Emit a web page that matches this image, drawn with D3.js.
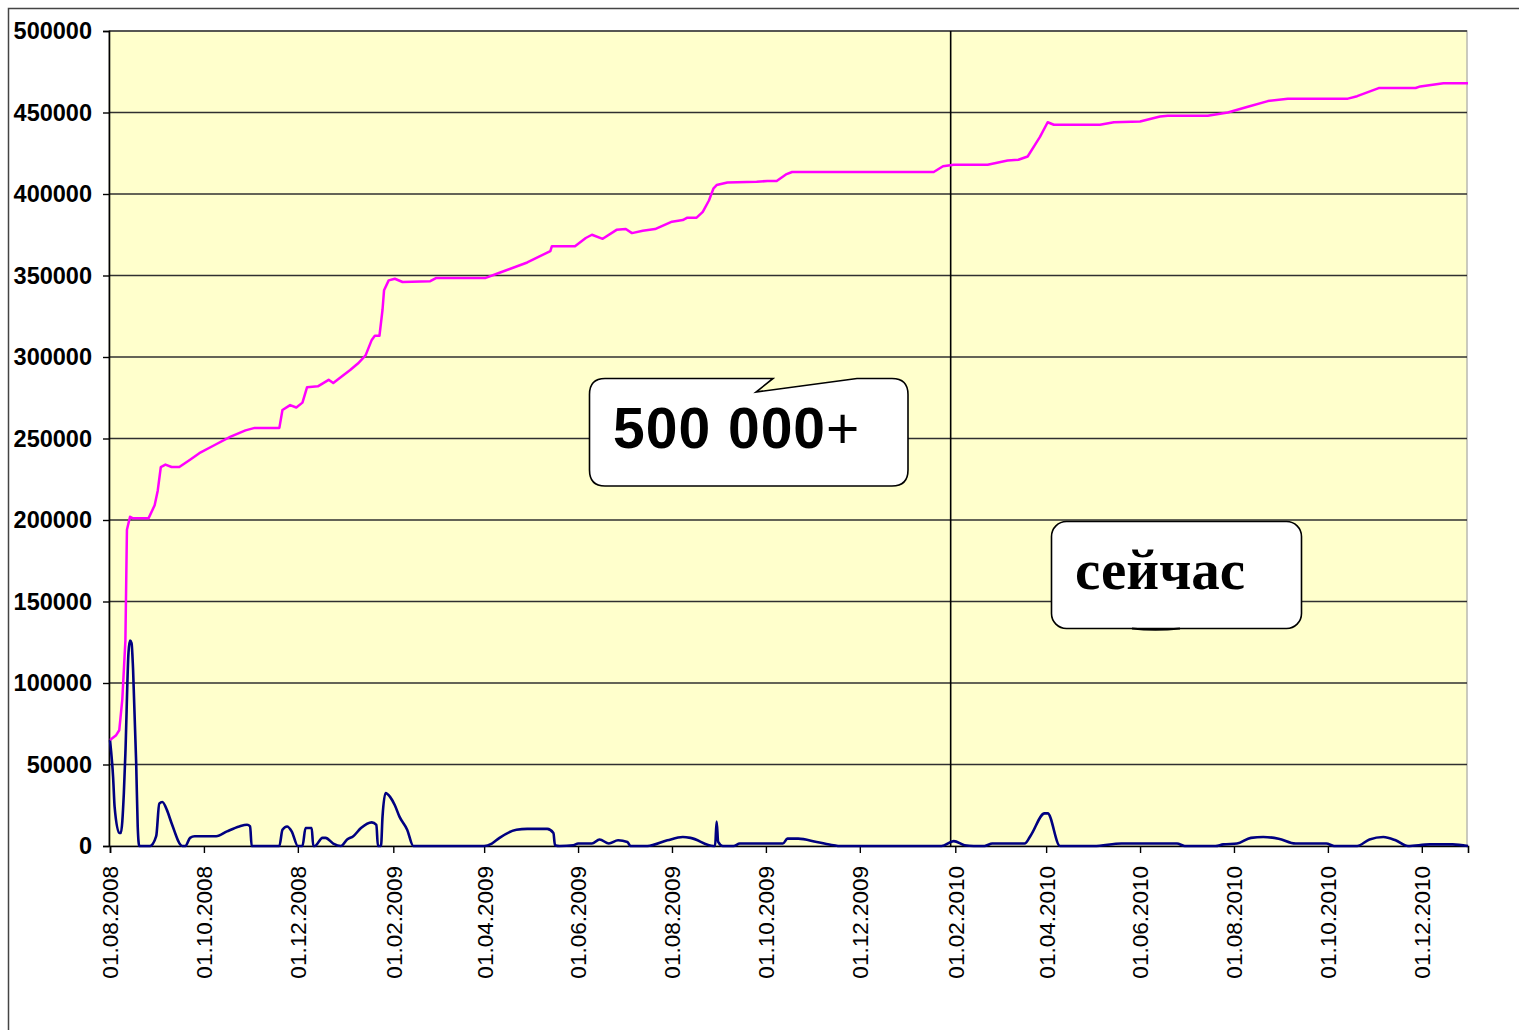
<!DOCTYPE html>
<html>
<head>
<meta charset="utf-8">
<script src="https://d3js.org/d3.v7.min.js"></script>
<style>
	body { margin: 0; background: white; }
	svg { display: block; }
</style>
</head>
<body>
<svg id="chart" width="1519" height="1030"></svg>
<script>
// total (pink) series
let totalDates = ["2008-08-01","2008-08-05","2008-08-07","2008-08-09","2008-08-11","2008-08-12","2008-08-14","2008-08-16","2008-08-26","2008-08-30",
	"2008-09-01","2008-09-03","2008-09-06","2008-09-10","2008-09-15","2008-09-22","2008-09-28","2008-10-08","2008-10-18","2008-10-28",
	"2008-11-03","2008-11-19","2008-11-21","2008-11-26","2008-11-30","2008-12-04","2008-12-07","2008-12-14","2008-12-21","2008-12-24",
	"2008-12-28","2009-01-04","2009-01-09","2009-01-14","2009-01-18","2009-01-20","2009-01-23","2009-01-25","2009-01-26","2009-01-29",
	"2009-02-02","2009-02-07","2009-02-25","2009-03-01","2009-04-02","2009-04-11","2009-04-29","2009-05-14","2009-05-15","2009-05-30",
	"2009-06-06","2009-06-10","2009-06-17","2009-06-26","2009-07-02","2009-07-06","2009-07-13","2009-07-21","2009-08-01","2009-08-08",
	"2009-08-11","2009-08-17","2009-08-21","2009-08-25","2009-08-28","2009-08-30","2009-09-06","2009-09-25","2009-10-02","2009-10-08",
	"2009-10-14","2009-10-18","2010-01-18","2010-01-24","2010-01-31","2010-02-22","2010-03-07","2010-03-14","2010-03-20","2010-03-28",
	"2010-04-02","2010-04-06","2010-05-06","2010-05-15","2010-06-01","2010-06-14","2010-06-19","2010-07-15","2010-07-28","2010-08-10",
	"2010-08-23","2010-09-05","2010-10-14","2010-10-20","2010-11-03","2010-11-27","2010-11-30","2010-12-15","2010-12-31"];
let totalValues = [65000,68000,71000,90000,126000,194000,202000,201000,201000,209000,
	218000,232500,234000,232500,232500,237000,241000,246000,251000,255000,
	256500,256500,267500,270500,269000,272000,281500,282000,286000,284000,
	287000,292000,296000,301000,310500,313000,313000,329000,341000,347000,
	348000,346000,346500,348500,348500,351700,358000,365000,368000,368000,
	373000,375000,372500,378000,378500,376000,377500,378500,383000,384000,
	385500,385500,389000,396000,403500,405500,407000,407500,408000,408000,
	412000,413500,413500,417000,418000,418000,420500,421000,423000,435000,
	444000,442500,442500,444000,444500,447500,448000,448000,450000,453500,
	457000,458500,458500,460000,465000,465000,466000,468000,468000];

// daily (navy) series
let dailyDates = ["2008-08-01","2008-08-03","2008-08-04","2008-08-07","2008-08-08","2008-08-10","2008-08-11","2008-08-13","2008-08-14","2008-08-15",
	"2008-08-16","2008-08-18","2008-08-19","2008-08-20","2008-08-27","2008-08-31","2008-09-02","2008-09-04","2008-09-07","2008-09-10",
	"2008-09-17","2008-09-19","2008-09-22","2008-09-25","2008-10-09","2008-10-16","2008-10-24","2008-10-29","2008-10-31","2008-11-01",
	"2008-11-19","2008-11-21","2008-11-24","2008-11-27","2008-12-01","2008-12-04","2008-12-06","2008-12-10","2008-12-11","2008-12-12",
	"2008-12-17","2008-12-19","2008-12-24","2008-12-29","2009-01-02","2009-01-06","2009-01-11","2009-01-18","2009-01-21","2009-01-22",
	"2009-01-24","2009-01-25","2009-01-27","2009-01-30","2009-02-02","2009-02-05","2009-02-10","2009-02-14","2009-04-01","2009-04-06",
	"2009-04-11","2009-04-22","2009-04-29","2009-05-12","2009-05-16","2009-05-17","2009-05-20","2009-05-29","2009-06-01","2009-06-10",
	"2009-06-15","2009-06-21","2009-06-27","2009-07-03","2009-07-05","2009-07-16","2009-07-29","2009-08-08","2009-08-13","2009-08-28",
	"2009-08-29","2009-08-30","2009-08-31","2009-09-03","2009-09-10","2009-09-14","2009-10-12","2009-10-15","2009-10-22","2009-11-03",
	"2009-11-14","2009-11-18","2010-01-23","2010-01-31","2010-02-07","2010-02-13","2010-02-20","2010-02-25","2010-03-18","2010-03-22",
	"2010-03-31","2010-04-02","2010-04-10","2010-05-02","2010-05-20","2010-06-25","2010-06-30","2010-07-20","2010-07-25","2010-08-03",
	"2010-08-12","2010-08-20","2010-08-30","2010-09-10","2010-09-30","2010-10-05","2010-10-20","2010-10-28","2010-11-06","2010-11-14",
	"2010-11-22","2010-12-06","2010-12-21","2010-12-31"];
let dailyValues = [65000,42500,24000,8000,8000,32500,57000,118500,126000,124500,
	108000,51000,12000,0,0,6000,26000,27000,22000,14000,
	0,0,5000,6000,6000,9000,12000,13000,12000,0,
	0,10000,12000,9000,0,0,11000,11000,0,0,
	5000,5000,1500,0,4000,6000,11000,14500,13000,0,
	0,18000,32500,30000,25000,18000,10000,0,0,1500,
	5000,10000,10500,10500,8000,500,0,500,1500,1500,
	4000,1500,3500,2500,0,0,3500,5500,5000,0,
	0,15000,2500,0,0,1500,1500,4500,4500,2500,
	500,0,0,3000,500,0,0,1500,1500,6500,
	20000,20000,0,0,1500,1500,0,0,1000,1500,
	5000,5500,4500,1500,1500,0,0,4000,5500,3500,
	0,1000,1000,0];

let tickLabels = ["01.08.2008","01.10.2008","01.12.2008","01.02.2009","01.04.2009","01.06.2009","01.08.2009",
	"01.10.2009","01.12.2009","01.02.2010","01.04.2010","01.06.2010","01.08.2010","01.10.2010","01.12.2010"];
let yTicks = [0,50000,100000,150000,200000,250000,300000,350000,400000,450000,500000];
let nowDate = "2010-01-29";
let startDate = "2008-08-01";
let endDate = "2010-12-31";

let parseIso = d3.utcParse("%Y-%m-%d");
let parseLabel = d3.utcParse("%d.%m.%Y");

let plotLeft = 109, plotTop = 31, plotRight = 1467, plotBottom = 846;
let svg = d3.select("#chart");

let x = d3.scaleUtc()
	.domain([parseIso(startDate), parseIso(endDate)])
	.range([plotLeft + 1, plotRight + 1]);

let y = d3.scaleLinear()
	.domain([0, 500000])
	.range([plotBottom, plotTop]);

// outer frame
svg.append("path")
	.attr("d", "M8.5,1030 L8.5,8.5 L1519,8.5")
	.attr("fill", "none")
	.attr("stroke", "#444")
	.attr("stroke-width", 1.5);

// plot area
svg.append("rect")
	.attr("x", plotLeft)
	.attr("y", plotTop)
	.attr("width", plotRight - plotLeft)
	.attr("height", plotBottom - plotTop)
	.attr("fill", "#ffffcc")
	.attr("stroke", "#b8b8b0")
	.attr("stroke-width", 1.5);

// gridlines
svg.append("g")
	.selectAll("line")
	.data(yTicks.slice(1))
	.enter().append("line")
	.attr("x1", plotLeft)
	.attr("x2", plotRight)
	.attr("y1", function(d) { return y(d); })
	.attr("y2", function(d) { return y(d); })
	.attr("stroke", "#303030")
	.attr("stroke-width", 1.4);

// y axis
let yAxis = svg.append("g")
	.attr("transform", "translate(" + plotLeft + ",0)")
	.call(d3.axisLeft(y).tickValues(yTicks).tickSize(6).tickPadding(11).tickFormat(d3.format("d")));
yAxis.select(".domain").attr("stroke", "#000").attr("stroke-width", 1.6);
yAxis.selectAll(".tick line").attr("stroke", "#000").attr("stroke-width", 1.4);
yAxis.selectAll("text")
	.style("font", "bold 23.5px 'Liberation Sans', Arial, sans-serif")
	.attr("fill", "#000");

// x axis
let xAxis = svg.append("g")
	.attr("transform", "translate(0," + plotBottom + ")")
	.call(d3.axisBottom(x).tickValues(tickLabels.map(parseLabel)).tickSize(7)
		.tickFormat(d3.utcFormat("%d.%m.%Y")));
xAxis.select(".domain").attr("stroke", "#000").attr("stroke-width", 1.6);
xAxis.selectAll(".tick line").attr("stroke", "#000").attr("stroke-width", 1.4);
xAxis.selectAll("text")
	.attr("transform", "rotate(-90)")
	.attr("x", -20)
	.attr("y", 0)
	.attr("dy", "0.35em")
	.style("text-anchor", "end")
	.style("font", "22.5px 'Liberation Sans', Arial, sans-serif")
	.attr("fill", "#000");

// "now" line
svg.append("line")
	.attr("x1", x(parseIso(nowDate)))
	.attr("x2", x(parseIso(nowDate)))
	.attr("y1", plotTop)
	.attr("y2", plotBottom)
	.attr("stroke", "#000")
	.attr("stroke-width", 1.6);

let totalData = totalDates.map(function(d, i) { return {date: parseIso(d), value: totalValues[i]}; });
let dailyData = dailyDates.map(function(d, i) { return {date: parseIso(d), value: dailyValues[i]}; });

svg.append("path")
	.datum(dailyData)
	.attr("fill", "none")
	.attr("stroke", "#000080")
	.attr("stroke-width", 2.6)
	.attr("stroke-linejoin", "round")
	.attr("d", d3.line()
		.curve(d3.curveMonotoneX)
		.x(function(d) { return x(d.date); })
		.y(function(d) { return y(d.value); }));

svg.append("path")
	.datum(totalData)
	.attr("fill", "none")
	.attr("stroke", "#ff00ff")
	.attr("stroke-width", 2.5)
	.attr("stroke-linejoin", "round")
	.attr("d", d3.line()
		.x(function(d) { return x(d.date); })
		.y(function(d) { return y(d.value); }));

// callout "500 000+"
svg.append("path")
	.attr("d", "M605,378.5 L773,378.5 L756,392 L857,378.5 L892,378.5 Q908,378.5 908,394.5 L908,470 Q908,486 892,486 " +
		"L605,486 Q589.5,486 589.5,470 L589.5,394.5 Q589.5,378.5 605,378.5 Z")
	.attr("fill", "#fff")
	.attr("stroke", "#000")
	.attr("stroke-width", 1.6);

let callout = svg.append("text")
	.attr("x", 613)
	.attr("y", 448)
	.style("font-family", "'Liberation Sans', Arial, sans-serif")
	.style("font-size", "57px")
	.style("letter-spacing", "1px")
	.attr("fill", "#000");
callout.append("tspan").style("font-weight", "bold").text("500 000");
callout.append("tspan").text("+");

// callout "сейчас"
svg.append("rect")
	.attr("x", 1051.5)
	.attr("y", 521.5)
	.attr("width", 250)
	.attr("height", 107)
	.attr("rx", 15)
	.attr("ry", 15)
	.attr("fill", "#fff")
	.attr("stroke", "#000")
	.attr("stroke-width", 1.6);

svg.append("path")
	.attr("d", "M1132,628.5 Q1155,631 1180,628.5")
	.attr("fill", "none")
	.attr("stroke", "#000")
	.attr("stroke-width", 2);

svg.append("text")
	.attr("x", 1075)
	.attr("y", 589)
	.style("font", "bold 57px 'Liberation Serif', 'Times New Roman', serif")
	.attr("fill", "#000")
	.text("сейчас");
</script>
</body>
</html>
